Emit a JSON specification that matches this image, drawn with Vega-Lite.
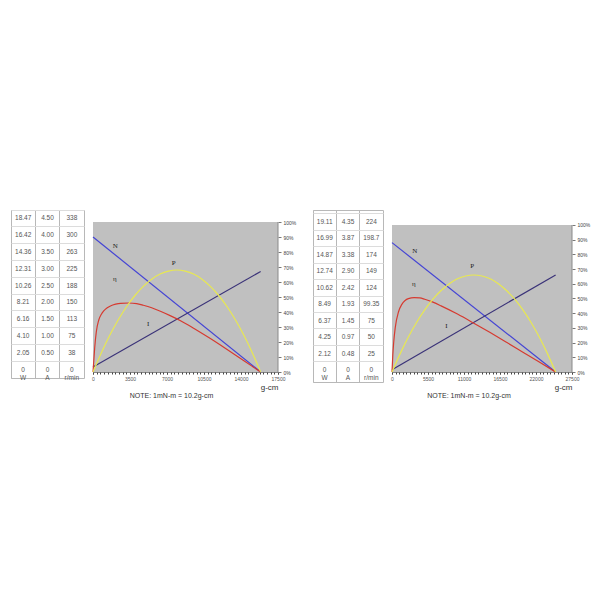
{
 "$schema": "https://vega.github.io/schema/vega-lite/v6.json",
 "background": "white",
 "padding": {"left": 10, "top": 209, "right": 5, "bottom": 5},
 "bounds": "flush",
 "spacing": 9,
 "config": {"view": {"stroke": null}, "font": "Liberation Sans"},
 "datasets": {
  "tabL": [
   {"row":1,"col":"W","v":"18.47"},{"row":1,"col":"A","v":"4.50"},{"row":1,"col":"r/min","v":"338"},
   {"row":2,"col":"W","v":"16.42"},{"row":2,"col":"A","v":"4.00"},{"row":2,"col":"r/min","v":"300"},
   {"row":3,"col":"W","v":"14.36"},{"row":3,"col":"A","v":"3.50"},{"row":3,"col":"r/min","v":"263"},
   {"row":4,"col":"W","v":"12.31"},{"row":4,"col":"A","v":"3.00"},{"row":4,"col":"r/min","v":"225"},
   {"row":5,"col":"W","v":"10.26"},{"row":5,"col":"A","v":"2.50"},{"row":5,"col":"r/min","v":"188"},
   {"row":6,"col":"W","v":"8.21"},{"row":6,"col":"A","v":"2.00"},{"row":6,"col":"r/min","v":"150"},
   {"row":7,"col":"W","v":"6.16"},{"row":7,"col":"A","v":"1.50"},{"row":7,"col":"r/min","v":"113"},
   {"row":8,"col":"W","v":"4.10"},{"row":8,"col":"A","v":"1.00"},{"row":8,"col":"r/min","v":"75"},
   {"row":9,"col":"W","v":"2.05"},{"row":9,"col":"A","v":"0.50"},{"row":9,"col":"r/min","v":"38"},
   {"row":10,"col":"W","v":"0"},{"row":10,"col":"A","v":"0"},{"row":10,"col":"r/min","v":"0"}
  ],
  "tabR": [
   {"row":1,"col":"W","v":"19.11"},{"row":1,"col":"A","v":"4.35"},{"row":1,"col":"r/min","v":"224"},
   {"row":2,"col":"W","v":"16.99"},{"row":2,"col":"A","v":"3.87"},{"row":2,"col":"r/min","v":"198.7"},
   {"row":3,"col":"W","v":"14.87"},{"row":3,"col":"A","v":"3.38"},{"row":3,"col":"r/min","v":"174"},
   {"row":4,"col":"W","v":"12.74"},{"row":4,"col":"A","v":"2.90"},{"row":4,"col":"r/min","v":"149"},
   {"row":5,"col":"W","v":"10.62"},{"row":5,"col":"A","v":"2.42"},{"row":5,"col":"r/min","v":"124"},
   {"row":6,"col":"W","v":"8.49"},{"row":6,"col":"A","v":"1.93"},{"row":6,"col":"r/min","v":"99.35"},
   {"row":7,"col":"W","v":"6.37"},{"row":7,"col":"A","v":"1.45"},{"row":7,"col":"r/min","v":"75"},
   {"row":8,"col":"W","v":"4.25"},{"row":8,"col":"A","v":"0.97"},{"row":8,"col":"r/min","v":"50"},
   {"row":9,"col":"W","v":"2.12"},{"row":9,"col":"A","v":"0.48"},{"row":9,"col":"r/min","v":"25"},
   {"row":10,"col":"W","v":"0"},{"row":10,"col":"A","v":"0"},{"row":10,"col":"r/min","v":"0"}
  ],
  "units": [{"row":10,"col":"W"},{"row":10,"col":"A"},{"row":10,"col":"r/min"}],
  "curvesL": [
   {"s":"N","T":0,"v":90},{"s":"N","T":15860,"v":0},
   {"s":"I","T":0,"v":3.4},{"s":"I","T":15860,"v":67},
   {"s":"eff","T":0,"v":0},{"s":"eff","T":79,"v":8},{"s":"eff","T":159,"v":16},{"s":"eff","T":317,"v":27},
   {"s":"eff","T":539,"v":34.5},{"s":"eff","T":793,"v":38.5},{"s":"eff","T":1015,"v":40.7},{"s":"eff","T":1348,"v":42.8},
   {"s":"eff","T":1649,"v":44},{"s":"eff","T":2141,"v":45.2},{"s":"eff","T":2617,"v":45.8},{"s":"eff","T":3378,"v":46},
   {"s":"eff","T":4124,"v":45.6},{"s":"eff","T":4758,"v":44.5},{"s":"eff","T":5551,"v":42.8},{"s":"eff","T":6376,"v":40.5},
   {"s":"eff","T":7296,"v":37.6},{"s":"eff","T":8279,"v":34.2},{"s":"eff","T":9516,"v":29.2},{"s":"eff","T":11102,"v":22.3},
   {"s":"eff","T":12688,"v":15},{"s":"eff","T":14274,"v":7.5},{"s":"eff","T":15067,"v":3.75},{"s":"eff","T":15860,"v":0},
   {"s":"P","T":0,"v":0},{"s":"P","T":793,"v":12.9},{"s":"P","T":1586,"v":24.5},{"s":"P","T":2379,"v":34.7},
   {"s":"P","T":3172,"v":43.5},{"s":"P","T":3965,"v":51},{"s":"P","T":4758,"v":57.1},{"s":"P","T":5551,"v":61.9},
   {"s":"P","T":6344,"v":65.3},{"s":"P","T":7137,"v":67.3},{"s":"P","T":7930,"v":68},{"s":"P","T":8723,"v":67.3},
   {"s":"P","T":9516,"v":65.3},{"s":"P","T":10309,"v":61.9},{"s":"P","T":11102,"v":57.1},{"s":"P","T":11895,"v":51},
   {"s":"P","T":12688,"v":43.5},{"s":"P","T":13481,"v":34.7},{"s":"P","T":14274,"v":24.5},{"s":"P","T":15067,"v":12.9},
   {"s":"P","T":15860,"v":0}
  ],
  "curvesR": [
   {"s":"N","T":0,"v":88},{"s":"N","T":25000,"v":0},
   {"s":"I","T":0,"v":1.6},{"s":"I","T":25000,"v":66},
   {"s":"eff","T":0,"v":0},{"s":"eff","T":125,"v":11.5},{"s":"eff","T":250,"v":19.7},{"s":"eff","T":500,"v":30.3},
   {"s":"eff","T":1000,"v":41},{"s":"eff","T":1500,"v":46},{"s":"eff","T":2000,"v":48.6},{"s":"eff","T":2500,"v":49.9},
   {"s":"eff","T":3375,"v":50.6},{"s":"eff","T":4250,"v":50.4},{"s":"eff","T":5000,"v":49.5},{"s":"eff","T":6250,"v":47.5},
   {"s":"eff","T":7500,"v":45},{"s":"eff","T":10000,"v":39.4},{"s":"eff","T":12500,"v":33.2},{"s":"eff","T":15000,"v":26.8},
   {"s":"eff","T":17500,"v":20.2},{"s":"eff","T":20000,"v":13.5},{"s":"eff","T":22500,"v":6.8},{"s":"eff","T":25000,"v":0},
   {"s":"P","T":0,"v":0},{"s":"P","T":1250,"v":12.5},{"s":"P","T":2500,"v":23.8},{"s":"P","T":3750,"v":33.7},
   {"s":"P","T":5000,"v":42.2},{"s":"P","T":6250,"v":49.5},{"s":"P","T":7500,"v":55.4},{"s":"P","T":8750,"v":60.1},
   {"s":"P","T":10000,"v":63.4},{"s":"P","T":11250,"v":65.3},{"s":"P","T":12500,"v":66},{"s":"P","T":13750,"v":65.3},
   {"s":"P","T":15000,"v":63.4},{"s":"P","T":16250,"v":60.1},{"s":"P","T":17500,"v":55.4},{"s":"P","T":18750,"v":49.5},
   {"s":"P","T":20000,"v":42.2},{"s":"P","T":21250,"v":33.7},{"s":"P","T":22500,"v":23.8},{"s":"P","T":23750,"v":12.5},
   {"s":"P","T":25000,"v":0}
  ],
  "labL": [
   {"lab":"N","T":2116,"v":84},{"lab":"η","T":2053,"v":62},{"lab":"P","T":7644,"v":73},{"lab":"I","T":5212,"v":32}
  ],
  "labR": [
   {"lab":"N","T":3476,"v":82},{"lab":"η","T":3323,"v":60},{"lab":"P","T":12268,"v":72},{"lab":"I","T":8332,"v":31}
  ]
 },
 "hconcat": [
  {
   "width": 73, "height": 168,
   "view": {"stroke": "#b8b8b8"},
   "layer": [
    {
     "data": {"name": "tabL"},
     "mark": {"type": "text", "fontSize": 6.5, "fill": "#555"},
     "encoding": {
      "x": {"field": "col", "type": "nominal", "sort": ["W","A","r/min"], "scale": {"type": "band", "paddingInner": 0, "paddingOuter": 0},
            "axis": {"title": null, "labels": false, "ticks": false, "domain": false, "grid": true, "bandPosition": 0, "gridColor": "#b8b8b8"}},
      "y": {"field": "row", "type": "ordinal", "scale": {"type": "band", "paddingInner": 0, "paddingOuter": 0},
            "axis": {"title": null, "labels": false, "ticks": false, "domain": false, "grid": true, "bandPosition": 0, "gridColor": "#dcdcdc"}},
      "text": {"field": "v"}
     }
    },
    {
     "data": {"name": "units"},
     "mark": {"type": "text", "fontSize": 6.5, "fill": "#555", "dy": 8.5},
     "encoding": {
      "x": {"field": "col", "type": "nominal", "sort": ["W","A","r/min"]},
      "y": {"field": "row", "type": "ordinal"},
      "text": {"field": "col"}
     }
    }
   ]
  },
  {
   "width": 185, "height": 162,
   "title": {"text": "NOTE: 1mN-m = 10.2g-cm", "orient": "bottom", "fontSize": 7, "fontWeight": "normal", "color": "#333", "dx": -14, "offset": 1},
   "layer": [
    {
     "data": {"values": [{"T": 0, "T2": 17500, "v": 0, "v2": 100}]},
     "mark": {"type": "rect", "fill": "#c0c0c0"},
     "encoding": {
      "x": {"field": "T", "type": "quantitative", "scale": {"domain": [0, 17500], "nice": false},
            "axis": {"orient": "bottom", "title": "g-cm", "titleAnchor": "end", "titleFontSize": 8, "titleFontWeight": "normal", "titleColor": "#333", "titlePadding": 2,
                     "values": [0,3500,7000,10500,14000,17500], "format": "d", "labelOverlap": false, "labelFlush": false,
                     "labelFontSize": 5, "labelColor": "#555", "labelPadding": 2, "tickSize": 2, "tickColor": "#444", "domainColor": "#888", "grid": false}},
      "x2": {"field": "T2"},
      "y": {"field": "v", "type": "quantitative", "scale": {"domain": [0, 108], "nice": false},
            "axis": {"orient": "left", "title": null, "values": [11.11,22.22,33.33,44.44,55.56,66.67,77.78,88.89], "labels": false, "domain": false, "grid": false, "tickSize": 2, "tickColor": "#555", "offset": -2}},
      "y2": {"field": "v2"}
     }
    },
    {
     "data": {"values": [{"T": 17500, "v": 0, "v2": 100}]},
     "mark": {"type": "rule", "color": "#8a8a8a", "strokeWidth": 1},
     "encoding": {
      "x": {"field": "T", "type": "quantitative",
            "axis": {"orient": "bottom", "title": null, "labels": false, "domain": false, "grid": false, "tickSize": 2, "tickColor": "#444",
                     "values": [0,350,700,1050,1400,1750,2100,2450,2800,3150,3500,3850,4200,4550,4900,5250,5600,5950,6300,6650,7000,7350,7700,8050,8400,8750,9100,9450,9800,10150,10500,10850,11200,11550,11900,12250,12600,12950,13300,13650,14000,14350,14700,15050,15400,15750,16100,16450,16800,17150,17500]}},
      "y": {"field": "v", "type": "quantitative",
            "axis": {"orient": "right", "title": null, "values": [0,10,20,30,40,50,60,70,80,90,100], "labelExpr": "datum.value + '%'", "labelFontSize": 5, "labelColor": "#444", "labelPadding": 2, "tickSize": 3, "tickColor": "#777", "domain": false, "grid": false}},
      "y2": {"field": "v2"}
     }
    },
    {
     "data": {"name": "curvesL"},
     "mark": {"type": "line", "strokeWidth": 1.2, "interpolate": "monotone"},
     "encoding": {
      "x": {"field": "T", "type": "quantitative", "axis": null},
      "y": {"field": "v", "type": "quantitative", "axis": null},
      "color": {"field": "s", "type": "nominal", "legend": null, "scale": {"domain": ["N","I","eff","P"], "range": ["#4444d4","#3a3278","#d63a30","#e8e850"]}}
     }
    },
    {
     "data": {"name": "labL"},
     "mark": {"type": "text", "font": "Liberation Serif", "fontSize": 7, "fill": "#222"},
     "encoding": {
      "x": {"field": "T", "type": "quantitative", "axis": null},
      "y": {"field": "v", "type": "quantitative", "axis": null},
      "text": {"field": "lab"}
     }
    }
   ],
   "resolve": {"axis": {"x": "independent", "y": "independent"}}
  },
  {
   "width": 17, "height": 162,
   "data": {"values": [{}]},
   "mark": {"type": "point", "opacity": 0}
  },
  {
   "width": 70, "height": 172,
   "view": {"stroke": "#b8b8b8"},
   "layer": [
    {
     "data": {"name": "tabR"},
     "mark": {"type": "text", "fontSize": 6.5, "fill": "#555"},
     "encoding": {
      "x": {"field": "col", "type": "nominal", "sort": ["W","A","r/min"], "scale": {"type": "band", "paddingInner": 0, "paddingOuter": 0},
            "axis": {"title": null, "labels": false, "ticks": false, "domain": false, "grid": true, "bandPosition": 0, "gridColor": "#b8b8b8"}},
      "y": {"field": "row", "type": "ordinal", "scale": {"type": "band", "paddingInner": 0, "paddingOuter": 0.23},
            "axis": {"title": null, "labels": false, "ticks": false, "domain": false, "grid": true, "bandPosition": 0, "gridColor": "#dcdcdc"}},
      "text": {"field": "v"}
     }
    },
    {
     "data": {"name": "units"},
     "mark": {"type": "text", "fontSize": 6.5, "fill": "#555", "dy": 8},
     "encoding": {
      "x": {"field": "col", "type": "nominal", "sort": ["W","A","r/min"]},
      "y": {"field": "row", "type": "ordinal"},
      "text": {"field": "col"}
     }
    }
   ]
  },
  {
   "width": 180, "height": 162,
   "title": {"text": "NOTE: 1mN-m = 10.2g-cm", "orient": "bottom", "fontSize": 7, "fontWeight": "normal", "color": "#333", "dx": -13, "offset": 1},
   "layer": [
    {
     "data": {"values": [{"T": 0, "T2": 27500, "v": 0, "v2": 100}]},
     "mark": {"type": "rect", "fill": "#c0c0c0"},
     "encoding": {
      "x": {"field": "T", "type": "quantitative", "scale": {"domain": [0, 27500], "nice": false},
            "axis": {"orient": "bottom", "title": "g-cm", "titleAnchor": "end", "titleFontSize": 8, "titleFontWeight": "normal", "titleColor": "#333", "titlePadding": 2,
                     "values": [0,5500,11000,16500,22000,27500], "format": "d", "labelOverlap": false, "labelFlush": false,
                     "labelFontSize": 5, "labelColor": "#555", "labelPadding": 2, "tickSize": 2, "tickColor": "#444", "domainColor": "#888", "grid": false}},
      "x2": {"field": "T2"},
      "y": {"field": "v", "type": "quantitative", "scale": {"domain": [0, 110.2], "nice": false},
            "axis": {"orient": "left", "title": null, "values": [11.11,22.22,33.33,44.44,55.56,66.67,77.78,88.89], "labels": false, "domain": false, "grid": false, "tickSize": 2, "tickColor": "#555", "offset": -2}},
      "y2": {"field": "v2"}
     }
    },
    {
     "data": {"values": [{"T": 27500, "v": 0, "v2": 100}]},
     "mark": {"type": "rule", "color": "#8a8a8a", "strokeWidth": 1},
     "encoding": {
      "x": {"field": "T", "type": "quantitative",
            "axis": {"orient": "bottom", "title": null, "labels": false, "domain": false, "grid": false, "tickSize": 2, "tickColor": "#444",
                     "values": [0,550,1100,1650,2200,2750,3300,3850,4400,4950,5500,6050,6600,7150,7700,8250,8800,9350,9900,10450,11000,11550,12100,12650,13200,13750,14300,14850,15400,15950,16500,17050,17600,18150,18700,19250,19800,20350,20900,21450,22000,22550,23100,23650,24200,24750,25300,25850,26400,26950,27500]}},
      "y": {"field": "v", "type": "quantitative",
            "axis": {"orient": "right", "title": null, "values": [0,10,20,30,40,50,60,70,80,90,100], "labelExpr": "datum.value + '%'", "labelFontSize": 5, "labelColor": "#444", "labelPadding": 2, "tickSize": 3, "tickColor": "#777", "domain": false, "grid": false}},
      "y2": {"field": "v2"}
     }
    },
    {
     "data": {"name": "curvesR"},
     "mark": {"type": "line", "strokeWidth": 1.2, "interpolate": "monotone"},
     "encoding": {
      "x": {"field": "T", "type": "quantitative", "axis": null},
      "y": {"field": "v", "type": "quantitative", "axis": null},
      "color": {"field": "s", "type": "nominal", "legend": null, "scale": {"domain": ["N","I","eff","P"], "range": ["#4444d4","#3a3278","#d63a30","#e8e850"]}}
     }
    },
    {
     "data": {"name": "labR"},
     "mark": {"type": "text", "font": "Liberation Serif", "fontSize": 7, "fill": "#222"},
     "encoding": {
      "x": {"field": "T", "type": "quantitative", "axis": null},
      "y": {"field": "v", "type": "quantitative", "axis": null},
      "text": {"field": "lab"}
     }
    }
   ],
   "resolve": {"axis": {"x": "independent", "y": "independent"}}
  }
 ]
}
